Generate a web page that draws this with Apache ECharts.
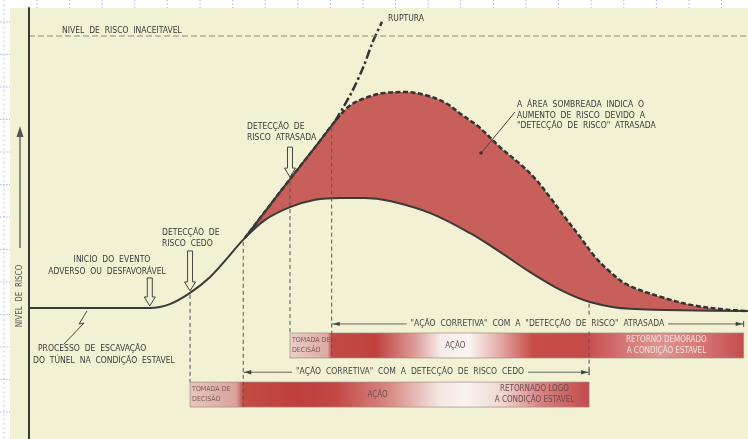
<!DOCTYPE html>
<html><head><meta charset="utf-8">
<script src="https://cdn.jsdelivr.net/npm/echarts/dist/echarts.min.js"></script>
<style>html,body{margin:0;padding:0;background:#fff}#c{width:748px;height:439px}</style>
</head><body><div id="c"></div>
<script>
// ---------------- data (time 0-100, risk level 0-100) ----------------
const lowT    = [0, 16.8, 19.6, 22.4, 25.2, 27.7, 30.0, 32.8, 36.3, 39.8, 43.3, 46.7, 50.2, 55.8, 61.3, 65.5, 69.7, 73.9, 78.0, 83.6, 100];
const lowRisk = [30.4, 30.4, 31.3, 33.9, 37.6, 42.2, 46.6, 50.8, 53.8, 55.5, 55.9, 55.9, 55.2, 52.4, 47.8, 43.4, 38.7, 34.6, 31.8, 30.2, 29.7];
const upT     = [30.0, 32.8, 36.3, 39.8, 42.6, 44.6, 46.7, 49.5, 52.3, 55.1, 57.9, 59.9, 62.7, 65.5, 68.3, 70.4, 72.5, 74.5, 76.6, 78.7, 80.8, 83.2, 87.8, 92.4, 97.1, 100];
const upRisk  = [46.6, 52.7, 60.3, 67.7, 73.8, 77.3, 79.1, 80.3, 80.5, 79.8, 78.0, 75.6, 72.2, 67.7, 63.8, 60.4, 56.0, 51.5, 47.0, 42.3, 38.8, 35.8, 33.0, 31.0, 30.0, 29.7];
const rupT    = [42.6, 44.9, 46.5, 47.8, 49.1];
const rupRisk = [73.8, 80.5, 86.3, 92.1, 96.8];
const unacceptableRisk = 93.5;
const adverseT = 16.8, earlyDetectT = 22.4, lateDetectT = 36.3;
const earlyPhases = [[22.4, 29.8], [29.8, 62.7], [62.7, 77.9]];
const latePhases  = [[36.3, 42.1], [42.1, 77.9], [77.9, 99.4]];
const phaseLabels = ['TOMADA DE\nDECISÃO', 'AÇÃO'];
const earlyReturnLabel = 'RETORNADO LOGO\nA CONDIÇÃO ESTAVEL';
const lateReturnLabel  = 'RETORNO DEMORADO\nA CONDIÇÃO ESTAVEL';
const earlyDimLabel = '"AÇÃO CORRETIVA" COM A DETECÇÃO DE RISCO CEDO';
const lateDimLabel  = '"AÇÃO CORRETIVA" COM A "DETECÇÃO DE RISCO" ATRASADA';

// ---------------- style / layout ----------------
const BG = '#f3f1d3', INK = '#3a3a3a', RED = '#c95f5a';
const FONT = "'Liberation Sans Narrow','DejaVu Sans Condensed','Arial Narrow',sans-serif";
const EARLY_LAY = {top: 13.2, bottom: 7.4, dim: 15.5, dimTextT: 53.0, actionTextShift: 16};
const LATE_LAY  = {top: 24.6, bottom: 18.8, dim: 26.7, dimTextT: 70.7, actionTextShift: -5};
const earlyStops = [[22.4,'#e8c6be'],[28.9,'#d8a29c'],[29.8,'#c24c46'],[37.5,'#bf3f3b'],[42.7,'#c24844'],[50.2,'#d88a86'],[57.0,'#f3e6e2'],[60.8,'#f9f4f0'],[66.0,'#efd4d0'],[71.0,'#d98484'],[77.9,'#c24a4a']];
const lateStops  = [[36.3,'#ead0c8'],[41.6,'#dba8a2'],[42.1,'#c24a44'],[48.3,'#c0423e'],[53.7,'#dc9c98'],[57.3,'#f6ecea'],[61.2,'#faf5f2'],[65.5,'#e3aaa6'],[70.0,'#c84c48'],[77.5,'#c64a48'],[78.0,'#c85050'],[83.5,'#d67c7a'],[88.0,'#dc9492'],[93.0,'#d67a78'],[99.4,'#c44c4c']];

const pairs = (t, r) => t.map((v, i) => [v, r[i]]);
function interp(ts, rs, t) {
  for (let i = 0; i < ts.length - 1; i++) {
    if (t >= ts[i] && t <= ts[i + 1]) return rs[i] + (rs[i + 1] - rs[i]) * (t - ts[i]) / (ts[i + 1] - ts[i]);
  }
  return rs[rs.length - 1];
}
const f = (s) => s + 'px ' + FONT;

function overlay(params, api) {
  const c = (t, r) => api.coord([t, r]);
  const ch = [];
  const dash = {stroke: '#555', lineWidth: 1, lineDash: [4, 3], fill: null};
  function text(x, y, s, size, color, align, extra) {
    ch.push({type: 'text', z2: 20, style: Object.assign({text: s, x: x, y: y, font: f(size), fill: color,
      textAlign: align, align: align, textVerticalAlign: 'middle', verticalAlign: 'middle', lineHeight: size + 3}, extra || {})});
  }
  function bar(phases, lay, stops, retLabel, retColor) {
    const t0 = phases[0][0], t1 = phases[phases.length - 1][1];
    const a = c(t0, lay.top), b = c(t1, lay.bottom);
    const grad = new echarts.graphic.LinearGradient(0, 0, 1, 0,
      stops.map(s => ({offset: Math.min(1, Math.max(0, (s[0] - t0) / (t1 - t0))), color: s[1]})));
    ch.push({type: 'rect', shape: {x: a[0], y: a[1], width: b[0] - a[0], height: b[1] - a[1]},
      style: {fill: grad, stroke: '#9c8c84', lineWidth: 0.7}});
    const midY = (a[1] + b[1]) / 2;
    const d0 = c(phases[0][0], 0)[0];
    text(d0 + 2, midY, phaseLabels[0], 7, '#7a5a58', 'left');
    const am = c((phases[1][0] + phases[1][1]) / 2, 0)[0] + lay.actionTextShift;
    text(am, midY, phaseLabels[1], 8, '#6e5250', 'center');
    const rm = c((phases[2][0] + phases[2][1]) / 2, 0)[0];
    text(rm, midY, retLabel, 8, retColor, 'center');
  }
  bar(earlyPhases, EARLY_LAY, earlyStops, earlyReturnLabel, '#6a4a4a');
  bar(latePhases, LATE_LAY, lateStops, lateReturnLabel, '#f6e2de');

  function vline(t, r1, r2) {
    const a = c(t, r1), b = c(t, r2);
    ch.push({type: 'line', shape: {x1: a[0], y1: a[1] + 2, x2: b[0], y2: b[1]}, style: dash});
  }
  vline(earlyDetectT, interp(lowT, lowRisk, earlyDetectT), EARLY_LAY.top);
  vline(earlyPhases[1][0], interp(lowT, lowRisk, earlyPhases[1][0]), EARLY_LAY.bottom);
  vline(lateDetectT, interp(upT, upRisk, lateDetectT), LATE_LAY.top);
  vline(latePhases[1][0], interp(upT, upRisk, latePhases[1][0]), LATE_LAY.bottom);
  vline(earlyPhases[2][1], interp(lowT, lowRisk, earlyPhases[2][1]), EARLY_LAY.dim - 0.6);

  function hollowArrow(t, r, len) {
    const p = c(t, r); const x = p[0], tip = p[1] - 2, top = tip - len, hl = 9, hh = 5.5, sh = 2.5;
    ch.push({type: 'polygon', z2: 10, shape: {points: [[x - sh, top], [x + sh, top], [x + sh, tip - hl], [x + hh, tip - hl], [x, tip], [x - hh, tip - hl], [x - sh, tip - hl]]},
      style: {fill: BG, stroke: '#444', lineWidth: 1}});
  }
  hollowArrow(adverseT, interp(lowT, lowRisk, adverseT), 28);
  hollowArrow(earlyDetectT, interp(lowT, lowRisk, earlyDetectT), 40);
  hollowArrow(lateDetectT, interp(upT, upRisk, lateDetectT), 30);

  function dim(t1, t2, lay, label) {
    const a = c(t1, lay.dim), b = c(t2, lay.dim), y = a[1];
    ch.push({type: 'line', shape: {x1: a[0], y1: y, x2: b[0], y2: y}, style: {stroke: '#555', lineWidth: 0.9}});
    ch.push({type: 'polygon', shape: {points: [[a[0] + 1, y], [a[0] + 8, y - 2.2], [a[0] + 8, y + 2.2]]}, style: {fill: '#444'}});
    ch.push({type: 'polygon', shape: {points: [[b[0] - 1, y], [b[0] - 8, y - 2.2], [b[0] - 8, y + 2.2]]}, style: {fill: '#444'}});
    ch.push({type: 'line', shape: {x1: b[0], y1: y - 3, x2: b[0], y2: y + 3}, style: {stroke: '#444', lineWidth: 1}});
    const tm = c(lay.dimTextT, lay.dim)[0];
    text(tm, y, label.replace(/ /g, '  '), 8.5, '#444', 'center', {backgroundColor: BG, padding: [1, 4]});
  }
  dim(earlyPhases[1][0], earlyPhases[2][1], EARLY_LAY, earlyDimLabel);
  dim(latePhases[1][0], latePhases[2][1], LATE_LAY, lateDimLabel);
  return {type: 'group', children: ch};
}

// ---------------- static decorations (margins, annotations) ----------------
const gfx = [];
gfx.push({type: 'rect', shape: {x: 0, y: 0, width: 10, height: 439}, style: {fill: '#fff'}});
gfx.push({type: 'rect', shape: {x: 0, y: 0, width: 748, height: 8}, style: {fill: '#fff'}});
for (let x = 37; x < 748; x += 32.6) gfx.push({type: 'line', shape: {x1: x, y1: 0, x2: x, y2: 8}, style: {stroke: '#a8b8ea', lineWidth: 1, lineDash: [1.5, 2]}});
gfx.push({type: 'line', shape: {x1: 4, y1: 0, x2: 4, y2: 439}, style: {stroke: '#b4c2ee', lineWidth: 1, lineDash: [1.5, 3]}});
for (let y = 22; y < 439; y += 32.5) gfx.push({type: 'line', shape: {x1: 0, y1: y, x2: 10, y2: y}, style: {stroke: '#a8b8ea', lineWidth: 1, lineDash: [1.5, 1.5]}});
function T(x, y, s, size, align) {
  gfx.push({type: 'text', x: x, y: y, z: 50, style: {text: s, font: f(size), fill: INK, textAlign: align || 'left', align: align || 'left',
    textVerticalAlign: 'middle', verticalAlign: 'middle'}});
}
T(62, 31, 'NIVEL  DE  RISCO  INACEITAVEL', 8.5);
T(388, 19, 'RUPTURA', 8.5);
T(247, 127, 'DETECÇÃO  DE', 8.5); T(247, 138, 'RISCO  ATRASADA', 8.5);
T(517, 105, 'A  ÁREA  SOMBREADA  INDICA  O', 8.5);
T(517, 115.5, 'AUMENTO  DE  RISCO  DEVIDO  A', 8.5);
T(517, 126, '"DETECÇÃO  DE  RISCO"  ATRASADA', 8.5);
T(162, 233, 'DETECÇÃO  DE', 8.5); T(162, 244, 'RISCO  CEDO', 8.5);
T(112, 260, 'INICIO  DO  EVENTO', 8.5, 'center'); T(107, 271.5, 'ADVERSO  OU  DESFAVORÁVEL', 8.5, 'center');
T(38, 349, 'PROCESSO  DE  ESCAVAÇÃO', 8.5); T(33, 361, 'DO  TÚNEL  NA  CONDIÇÃO  ESTAVEL', 8.5);
gfx.push({type: 'text', x: 20, y: 296, rotation: Math.PI / 2, z: 50, style: {text: 'NIVEL  DE  RISCO', font: f(8), fill: '#555',
  textAlign: 'center', align: 'center', textVerticalAlign: 'middle', verticalAlign: 'middle'}});
gfx.push({type: 'line', z: 50, shape: {x1: 20, y1: 248, x2: 20, y2: 134}, style: {stroke: '#555', lineWidth: 1.3}});
gfx.push({type: 'polygon', z: 50, shape: {points: [[20, 126], [16.5, 137], [23.5, 137]]}, style: {fill: '#555'}});
gfx.push({type: 'polyline', z: 50, shape: {points: [[87, 311], [79, 324], [84, 323], [64, 344]]}, style: {stroke: '#444', lineWidth: 1, fill: null}});
gfx.push({type: 'line', z: 50, shape: {x1: 515, y1: 112, x2: 482, y2: 152}, style: {stroke: '#444', lineWidth: 1}});
gfx.push({type: 'circle', z: 50, shape: {cx: 481, cy: 153, r: 1.8}, style: {fill: '#333'}});

const chart = echarts.init(document.getElementById('c'), null, {renderer: 'canvas'});
chart.setOption({
  animation: false,
  backgroundColor: BG,
  grid: {left: 29, right: 0, top: 8, bottom: 0, containLabel: false, outerBoundsMode: 'none'},
  xAxis: {type: 'value', min: 0, max: 100, show: false},
  yAxis: {type: 'value', min: 0, max: 100, z: 10, axisLine: {show: true, lineStyle: {color: '#3a3a3a', width: 2}},
    axisTick: {show: false}, axisLabel: {show: false}, splitLine: {show: false}},
  graphic: {elements: gfx},
  series: [
    {type: 'line', z: 1, data: pairs(upT, upRisk), smooth: 0.35, symbol: 'none', lineStyle: {width: 0, opacity: 0}, areaStyle: {color: RED, opacity: 1}},
    {type: 'line', z: 2, data: pairs(lowT, lowRisk), smooth: 0.35, symbol: 'none', lineStyle: {color: INK, width: 2}, areaStyle: {color: BG, opacity: 1}},
    {type: 'line', z: 3, data: pairs(upT, upRisk), smooth: 0.35, symbol: 'none', lineStyle: {color: '#333', width: 2.5, type: [5, 2.5]}},
    {type: 'line', z: 3, data: pairs(upT.slice(0, 5), upRisk.slice(0, 5)), smooth: 0.2, symbol: 'none', lineStyle: {color: INK, width: 2}},
    {type: 'line', z: 3, data: pairs(rupT, rupRisk), smooth: 0.3, symbol: 'none', lineStyle: {color: '#333', width: 2.5, type: [9, 3, 2.5, 3]}},
    {type: 'line', z: 3, data: [[0, unacceptableRisk], [100, unacceptableRisk]], symbol: 'none', lineStyle: {color: '#8a8a80', width: 1.2, type: [6, 3]}},
    {type: 'custom', z: 4, data: [[0, 0]], renderItem: overlay, silent: true}
  ]
});
</script></body></html>
